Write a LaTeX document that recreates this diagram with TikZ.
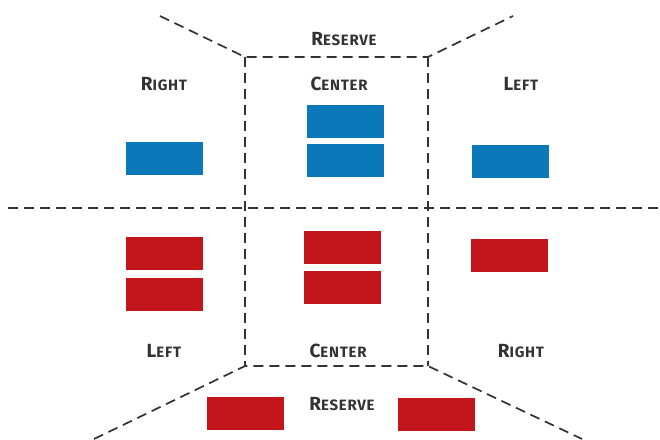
\documentclass[tikz,border=0pt]{standalone}
\usepackage{fontspec}
\newfontfamily\labelfont[LetterSpace=5]{Fira Sans}
\usepackage{xcolor}
\usetikzlibrary{positioning}
\definecolor{seatblue}{HTML}{0A78B9}
\definecolor{seatred}{HTML}{C3161C}
\definecolor{linegray}{HTML}{333333}
\newcommand{\zone}[2]{#1{\fontsize{15}{15}\selectfont #2}}

\begin{document}
\begin{tikzpicture}[x=1pt,y=-1pt,
  seat/.style={draw=none, minimum width=77pt, minimum height=33pt, inner sep=0pt},
  blueseat/.style={seat, fill=seatblue},
  redseat/.style={seat, fill=seatred},
  zonelabel/.style={font=\labelfont\bfseries\fontsize{19}{19}\selectfont, text=linegray, inner sep=0pt},
  border/.style={draw=linegray, line width=1.7pt, dash pattern=on 10pt off 6pt}]
  \useasboundingbox (0,0) rectangle (660,439);

  % corners of the center area
  \coordinate (tl) at (245,57);
  \coordinate (tr) at (428,57);
  \coordinate (bl) at (245,366);
  \coordinate (br) at (428,366);
  \coordinate (tlout) at (160,16);
  \coordinate (trout) at (513,16);
  \coordinate (blout) at (94,439);
  \coordinate (brout) at (582,439);
  \coordinate (midw) at (8,208);
  \coordinate (mide) at (660,208);

  \draw[border] (tlout) -- (tl) -- (tr) -- (trout);
  \draw[border] (blout) -- (bl) -- (br) -- (brout);
  \draw[border] (tl) -- (bl);
  \draw[border] (tr) -- (br);
  \draw[border] (midw) -- (mide);

  % top half
  \node[zonelabel] (restop) at (344,39) {\zone{R}{ESERVE}};
  \node[zonelabel] (righttop) at (164,84) {\zone{R}{IGHT}};
  \node[zonelabel] (centertop) at (339,84) {\zone{C}{ENTER}};
  \node[zonelabel] (lefttop) at (521,84) {\zone{L}{EFT}};

  \node[blueseat] (b1) at (164.5,158.5) {};
  \node[blueseat] (b2) at (345,121.5) {};
  \node[blueseat, below=6pt of b2] (b3) {};
  \node[blueseat] (b4) at (510,161) {};

  % bottom half
  \node[redseat] (r1) at (164.5,253.5) {};
  \node[redseat, below=8pt of r1] (r2) {};
  \node[redseat] (r3) at (342.5,247.5) {};
  \node[redseat, below=7pt of r3] (r4) {};
  \node[redseat] (r5) at (509.5,255) {};

  \node[zonelabel] (leftbot) at (164,351) {\zone{L}{EFT}};
  \node[zonelabel] (centerbot) at (338,351) {\zone{C}{ENTER}};
  \node[zonelabel] (rightbot) at (521,351) {\zone{R}{IGHT}};

  \node[zonelabel] (resbot) at (342,404) {\zone{R}{ESERVE}};
  \node[redseat] (r6) at (245,413) {};
  \node[redseat] (r7) at (436.5,414) {};
\end{tikzpicture}
\end{document}
